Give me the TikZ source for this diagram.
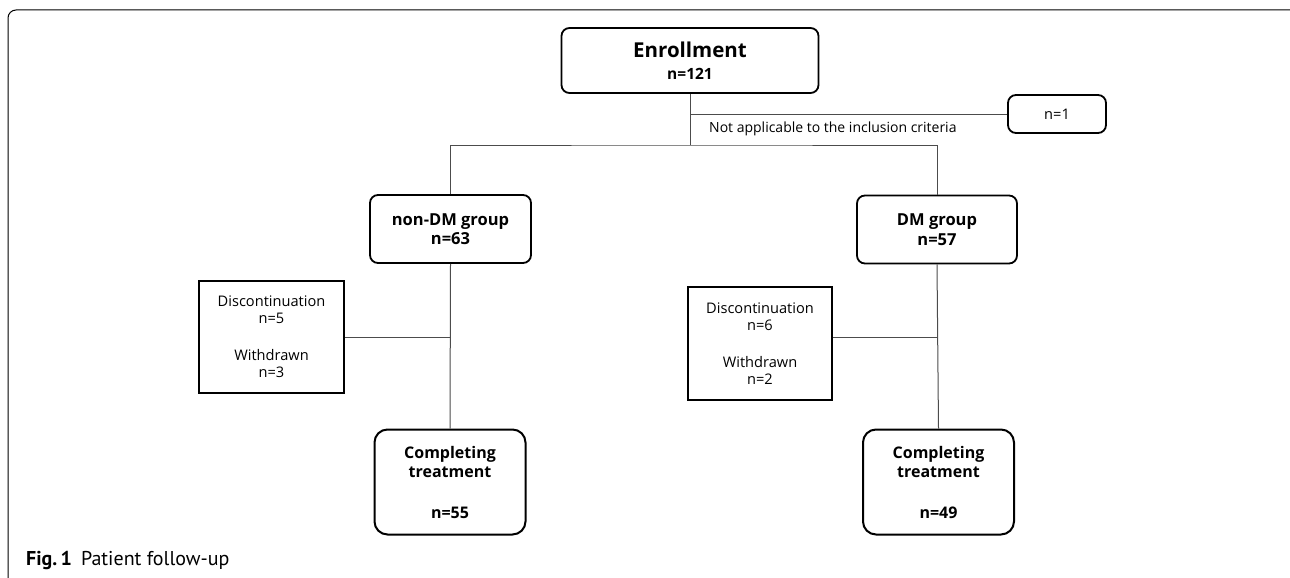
\documentclass[tikz,border=0pt]{standalone}
\usepackage{fontspec}
\setmainfont{Open Sans}
\newfontfamily\capfont{PT Sans}
\begin{document}
\begin{tikzpicture}[x=1pt,y=-1pt,
  conn/.style={draw=black!70, line width=1pt},
  rbox/.style={draw=black, line width=1.8pt, rounded corners=8pt, inner sep=0pt, align=center},
  cbox/.style={draw=black, line width=2pt, rounded corners=13pt, inner sep=0pt, align=center,
    minimum width=151pt, minimum height=105pt, font=\bfseries\fontsize{16}{19}\selectfont},
  gbox/.style={rbox, minimum height=68pt, font=\bfseries\fontsize{16.5}{19.5}\selectfont},
  sbox/.style={draw=black, line width=1.8pt, inner sep=0pt, align=center,
    minimum width=145pt, minimum height=112pt, font=\fontsize{14.6}{17}\selectfont},
]
\useasboundingbox (0,0) rectangle (1290,578);
\draw[line width=1pt, rounded corners=8pt] (8,578) -- (8,10) -- (1290,10);

\node[rbox, minimum width=257pt, minimum height=65pt, font=\bfseries\fontsize{15.5}{22}\selectfont] (enr) at (690,60.5)
  {{\fontsize{20.5}{22}\selectfont Enrollment}\\n=121};
\node[rbox, minimum width=98pt, minimum height=38pt, font=\fontsize{14.6}{17}\selectfont] (n1) at (1057,114) {n=1};
\node[anchor=base west, inner sep=0pt, font=\fontsize{14}{16}\selectfont] (lab) at (709,132) {Not applicable to the inclusion criteria};

\node[gbox, minimum width=161pt] (nondm) at (450.5,229) {non-DM group\\n=63};
\node[gbox, minimum width=160pt] (dm) at (937,229.5) {DM group\\n=57};

\node[sbox] (disc1) at (271.5,337) {Discontinuation\\n=5\\[20pt]Withdrawn\\n=3};
\node[sbox, minimum height=113pt, minimum width=144pt] (disc2) at (760,343.5) {Discontinuation\\n=6\\[20pt]Withdrawn\\n=2};

\node[cbox] (comp1) at (450,482) {Completing\\treatment\\[22pt]n=55};
\node[cbox] (comp2) at (938.5,482) {Completing\\treatment\\[22pt]n=49};

\coordinate (split) at (690,145);
\draw[conn] (enr.south) -- (split);
\draw[conn] (enr.south |- n1.west) -- (n1.west);
\draw[conn] (nondm.north) |- (split) -| (dm.north);
\draw[conn] (nondm.south) -- (comp1.north);
\draw[conn] (dm.south) -- (comp2.north);
\draw[conn] (disc1.east) -- (disc1.east -| nondm.south);
\draw[conn] (disc2.east |- disc1.east) -- (dm.south |- disc1.east);

\node[anchor=base west, inner sep=0pt, font=\capfont\fontsize{20}{22}\selectfont] (cap) at (26,565)
  {\textbf{Fig.\,1}\hspace{9pt}Patient follow-up};
\end{tikzpicture}
\end{document}
